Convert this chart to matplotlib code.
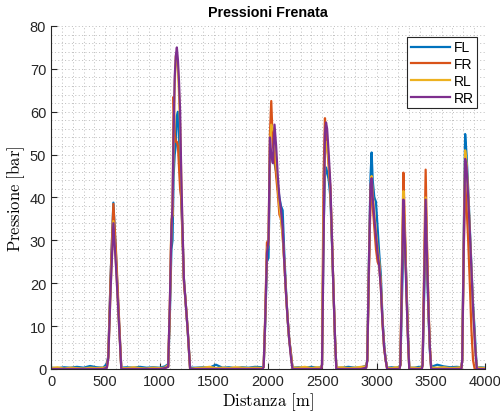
import numpy as np
import matplotlib
matplotlib.use('Agg')
import matplotlib.pyplot as plt
from matplotlib.ticker import MultipleLocator

# distanza [m] (griglia comune per i 4 canali)
dist = [0, 60, 120, 180, 240, 300, 360, 420, 480, 515,
        528, 550, 575, 600, 625, 648,
        700, 760, 820, 880, 940, 1000, 1050, 1072,
        1080, 1095, 1110, 1120, 1130, 1140, 1150, 1160, 1170, 1180, 1190, 1200, 1210, 1225, 1240, 1260, 1282,
        1330, 1400, 1460, 1520, 1580, 1640, 1700, 1760, 1820, 1880, 1950,
        1960, 1975, 1990, 2005, 2018, 2030, 2045, 2060, 2075, 2090, 2105, 2120, 2135, 2150, 2165, 2180, 2195, 2210, 2226,
        2280, 2340, 2400, 2450, 2490,
        2498, 2512, 2525, 2535, 2545, 2560, 2575, 2590, 2605, 2618, 2630,
        2680, 2740, 2800, 2860, 2905,
        2915, 2930, 2945, 2955, 2965, 2980, 2995, 3010, 3025, 3040, 3055, 3070, 3085, 3098,
        3140, 3180, 3212,
        3220, 3235, 3248, 3260, 3275, 3290, 3302,
        3350, 3390, 3418,
        3425, 3440, 3453, 3465, 3480, 3492, 3504,
        3560, 3620, 3680, 3740, 3782,
        3790, 3805, 3817, 3830, 3845, 3860, 3875, 3890, 3905, 3915, 3925,
        3960, 4000]

# pressioni [bar]
p_fl = [0.3, 0.2, 0.4, 0.3, 0.5, 0.3, 0.7, 0.4, 0.3, 1.2,
        3, 22, 38.8, 26, 12, 0.3,
        0.4, 0.3, 0.5, 0.3, 0.4, 0.3, 0.6, 1.0,
        0.8, 12, 28, 30, 45, 50, 52, 59, 60, 55, 44, 40, 33, 21, 16, 9, 0.3,
        0.3, 0.4, 0.3, 1.0, 0.3, 0.4, 0.2, 0.4, 0.3, 0.5, 0.4,
        0.5, 11, 25, 26, 48, 50, 49, 48, 46, 43, 40, 38, 37, 27, 19, 12, 7, 4, 0.3,
        0.4, 0.3, 0.5, 0.3, 0.4,
        1, 32, 45, 47, 46, 44, 40, 29, 17, 7, 0.3,
        0.3, 0.5, 0.3, 0.4, 0.8,
        2, 25, 45, 50.5, 44, 40, 39, 33, 27, 22, 12, 6, 2, 0.3,
        0.4, 0.3, 0.5,
        1, 16, 30, 32, 21, 8, 0.3,
        0.3, 0.5, 0.4,
        1, 18, 31, 24, 12, 4, 0.5,
        1.0, 0.6, 0.4, 0.5, 0.4,
        2, 33, 54.8, 50, 42, 33, 24, 15, 9, 4, 0.3,
        0.4, 0.3]

p_fr = [0, 0, 0, 0, 0, 0, 0, 0, 0, 0.3,
        3, 22, 38.5, 27, 13, 0,
        0, 0, 0, 0, 0, 0, 0.2, 0.5,
        0.5, 14, 34, 36, 63.5, 55, 53, 53, 52, 47, 42, 40, 32, 20, 16, 9, 0,
        0, 0, 0, 0, 0, 0, 0, 0, 0, 0, 0,
        0.5, 13, 29.5, 30, 55, 62.5, 52, 50, 45, 41, 36, 35, 31, 25, 18, 12, 7, 4, 0,
        0, 0, 0, 0, 0,
        1, 45, 58.5, 54, 52, 47, 42, 30, 17, 7, 0,
        0, 0, 0, 0, 0.3,
        2, 22, 40, 43, 38, 33, 28, 25, 24, 19, 11, 5, 2, 0,
        0, 0, 0,
        1, 25, 45.8, 35, 20, 8, 0,
        0, 0, 0,
        1, 25, 46.5, 30, 14, 5, 0,
        0, 0, 0, 0, 0,
        2, 28, 43, 38, 30, 20, 9, 2, 0, 0, 0,
        0, 0]

p_rl = [0.2, 0.4, 0.1, 0.3, 0.2, 0.1, 0.3, 0.2, 0.3, 0.4,
        2.5, 19, 34.5, 24, 11, 0.2,
        0.2, 0.4, 0.2, 0.1, 0.3, 0.2, 0.3, 0.8,
        0.5, 14, 35, 36, 52, 66, 73, 73, 70, 64, 57, 45, 34, 21, 16, 9, 0,
        0.2, 0.3, 0.5, 0.2, 0.3, 0.2, 0.4, 0.3, 0.2, 0.3, 0.2,
        0.5, 12, 28, 29, 52, 57, 56, 55, 48, 43, 38, 35, 31, 25, 18, 12, 7, 3.5, 0.3,
        0.3, 0.5, 0.2, 0.4, 0.3,
        1, 35, 50, 52, 53, 48, 42, 30, 17, 7, 0.3,
        0.4, 0.2, 0.3, 0.5, 0.6,
        2, 24, 42, 45, 41, 36, 32, 28, 25, 20, 11, 5, 2, 0.3,
        0.2, 0.4, 0.3,
        1, 22, 41.5, 33, 19, 7, 0.3,
        0.3, 0.2, 0.4,
        1, 22, 40, 28, 13, 5, 0.3,
        0.3, 0.4, 0.2, 0.3, 0.4,
        2, 32, 51, 48, 41, 32, 23, 14, 7, 3, 0.3,
        0.3, 0.2]

p_rr = [0, 0, 0, 0, 0, 0, 0, 0, 0, 0.3,
        2.5, 19, 34, 23.5, 11, 0,
        0, 0, 0, 0, 0, 0, 0.2, 0.4,
        0.5, 15, 33, 38, 55, 68, 73, 75, 72, 67, 60, 46, 35, 21, 16, 9, 0,
        0, 0, 0, 0, 0, 0, 0, 0, 0, 0, 0,
        0.5, 12, 27, 30, 54, 50, 48, 57, 52, 45, 40, 37, 33, 25, 18, 12, 7, 3, 0,
        0, 0, 0, 0, 0,
        1, 30, 55, 57.5, 56, 50, 43, 30, 17, 7, 0,
        0, 0, 0, 0, 0.3,
        2, 24, 43, 44.5, 40, 35, 31, 27, 24, 19, 11, 5, 2, 0,
        0, 0, 0,
        1, 21, 39.5, 31, 18, 7, 0,
        0, 0, 0,
        1, 21, 39.5, 27, 13, 5, 0,
        0, 0, 0, 0, 0,
        2, 30, 49, 47, 40, 32, 23, 14, 7, 3, 0,
        0, 0]

nomi = ['FL', 'FR', 'RL', 'RR']
colori = ['#0072BD', '#D95319', '#EDB120', '#7E2F8E']

plt.rcParams['font.family'] = ['Liberation Sans', 'DejaVu Sans']
plt.rcParams['mathtext.fontset'] = 'cm'

fig = plt.figure(figsize=(5, 4.14), dpi=100)
ax = fig.add_axes([0.102, 0.1063, 0.868, 0.8285])

for p, nome, c in zip([p_fl, p_fr, p_rl, p_rr], nomi, colori):
    ax.plot(dist, p, color=c, lw=1.6, label=nome)

ax.set_xlim(0, 4000)
ax.set_ylim(0, 80)
ax.xaxis.set_major_locator(MultipleLocator(500))
ax.yaxis.set_major_locator(MultipleLocator(10))
ax.xaxis.set_minor_locator(MultipleLocator(100))
ax.yaxis.set_minor_locator(MultipleLocator(2))

ax.grid(True, which='both', ls=(0, (1, 2.5)), color='#bdbdbd', lw=0.7)
ax.set_axisbelow(True)

ax.spines['top'].set_visible(False)
ax.spines['right'].set_visible(False)
for s in ['left', 'bottom']:
    ax.spines[s].set_color('#262626')
    ax.spines[s].set_linewidth(0.8)
ax.tick_params(which='major', direction='in', length=4, width=0.8, colors='#262626', labelsize=10.5)
ax.tick_params(which='minor', length=0)

ax.set_title('Pressioni Frenata', fontsize=10.3, fontweight='bold', pad=7)
ax.set_xlabel(r'$\mathrm{Distanza\ [m]}$', fontsize=12, labelpad=2)
ax.set_ylabel(r'$\mathrm{Pressione\ [bar]}$', fontsize=12, labelpad=2)

leg = ax.legend(loc='upper right', bbox_to_anchor=(0.982, 0.968), fontsize=10,
                frameon=True, fancybox=False, edgecolor='#262626', framealpha=1,
                handlelength=2.8, handletextpad=0.3, borderpad=0.25, labelspacing=0.2,
                borderaxespad=0)
leg.get_frame().set_linewidth(0.8)

fig.savefig('out.png', dpi=100)
